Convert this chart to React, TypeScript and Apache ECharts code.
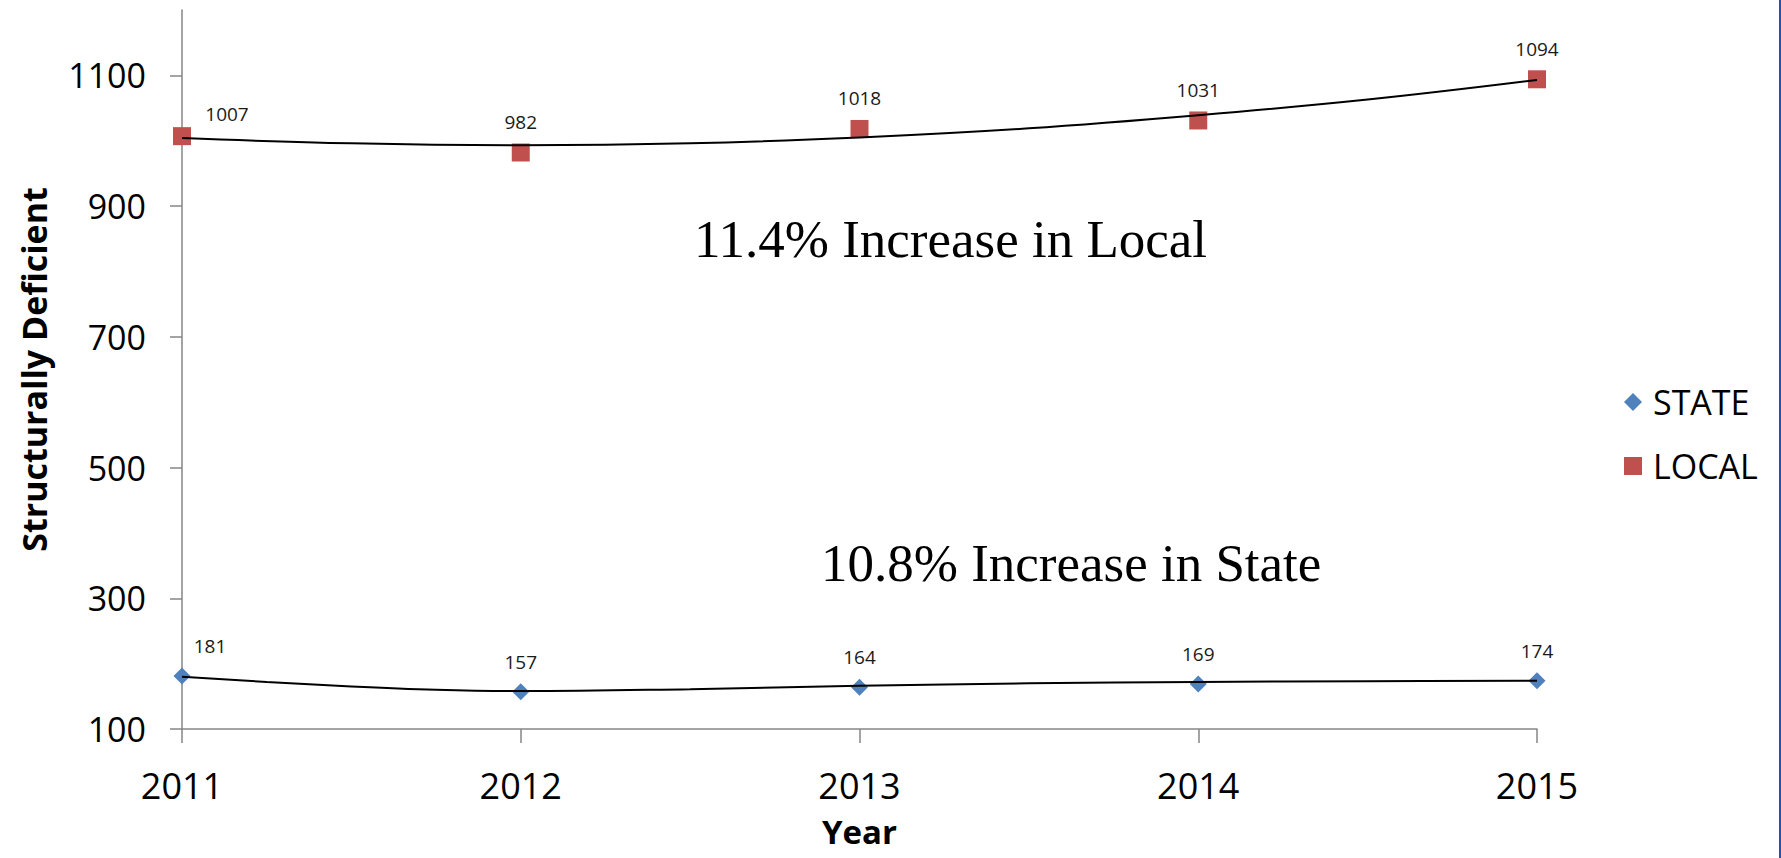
import React, { useEffect, useRef } from "react";
import * as echarts from "echarts";

const YEARS = [2011, 2012, 2013, 2014, 2015];
const STATE_VALUES = [181, 157, 164, 169, 174];
const LOCAL_VALUES = [1007, 982, 1018, 1031, 1094];
const Y_TICKS = [100, 300, 500, 700, 900, 1100];

// trendline points
const LOCAL_TREND_X = [2011, 2011.5, 2012, 2012.5, 2013, 2013.5, 2014, 2014.5, 2015];
const LOCAL_TREND_Y = [1004, 996, 993, 996, 1005, 1019, 1039, 1063, 1093];
const STATE_TREND_X = [2011, 2011.25, 2011.5, 2011.75, 2012, 2012.5, 2013, 2013.5, 2014, 2014.5, 2015];
const STATE_TREND_Y = [180, 172, 165, 160, 158, 161, 166, 170, 172, 173, 174];

const SERIES_NAMES = ["STATE", "LOCAL"];
const ANNOTATIONS = ["11.4% Increase in Local", "10.8% Increase in State"];

const FONT = "'Open Sans', 'DejaVu Sans', sans-serif";
const SERIF = "'Liberation Serif', 'Times New Roman', serif";

export default function App() {
  const ref = useRef<HTMLDivElement>(null);

  useEffect(() => {
    if (!ref.current) return;
    const chart = echarts.init(ref.current, null, { renderer: "svg" });

    const pointLabel = {
      show: true,
      position: "top",
      distance: 12,
      fontSize: 19,
      color: "#1a1a1a",
      fontFamily: FONT,
    };

    const localData = YEARS.map((y, i) =>
      i === 0
        ? { value: [y, LOCAL_VALUES[i]], label: { offset: [45, 8] } }
        : { value: [y, LOCAL_VALUES[i]] }
    );
    const stateData = YEARS.map((y, i) =>
      i === 0
        ? { value: [y, STATE_VALUES[i]], label: { offset: [28, 0] } }
        : { value: [y, STATE_VALUES[i]] }
    );

    chart.setOption({
      animation: false,
      backgroundColor: "#ffffff",
      grid: {
        left: 182,
        right: 244,
        top: 10,
        bottom: 129,
        containLabel: false,
        outerBoundsMode: "none",
      },
      legend: {
        orient: "vertical",
        left: 1619,
        top: 380,
        itemWidth: 18,
        itemHeight: 18,
        itemGap: 30,
        textStyle: { fontSize: 34, color: "#000", fontFamily: FONT, padding: [0, 0, 0, 6] },
        data: [
          { name: SERIES_NAMES[0], icon: "diamond" },
          { name: SERIES_NAMES[1], icon: "rect" },
        ],
      },
      xAxis: {
        type: "value",
        min: YEARS[0],
        max: YEARS[YEARS.length - 1],
        interval: 1,
        name: "Year",
        nameLocation: "middle",
        nameGap: 86,
        nameTextStyle: {
          fontSize: 33,
          lineHeight: 33,
          fontWeight: "bold",
          color: "#000",
          fontFamily: FONT,
        },
        axisLine: { show: true, lineStyle: { color: "#868686", width: 1.5 } },
        axisTick: { show: true, length: 14, lineStyle: { color: "#868686", width: 1.5 } },
        axisLabel: {
          fontSize: 36,
          color: "#000",
          margin: 38,
          fontFamily: FONT,
          formatter: (v: number) => String(v),
        },
        splitLine: { show: false },
      },
      yAxis: {
        type: "value",
        min: 100,
        max: 1200,
        interval: 200,
        name: "Structurally Deficient",
        nameLocation: "middle",
        nameGap: 131,
        nameRotate: 90,
        nameTextStyle: { fontSize: 34, fontWeight: "bold", color: "#000", fontFamily: FONT },
        axisLine: { show: true, lineStyle: { color: "#868686", width: 1.5 } },
        axisTick: {
          show: true,
          length: 12,
          customValues: Y_TICKS,
          lineStyle: { color: "#868686", width: 1.5 },
        },
        axisLabel: {
          fontSize: 34,
          color: "#000",
          margin: 36,
          fontFamily: FONT,
          customValues: Y_TICKS,
          formatter: (v: number) => String(v),
        },
        splitLine: { show: false },
      },
      series: [
        {
          name: SERIES_NAMES[0],
          type: "scatter",
          symbol: "diamond",
          symbolSize: 17,
          itemStyle: { color: "#4F81BD", opacity: 1 },
          label: pointLabel,
          data: stateData,
          z: 3,
        },
        {
          name: SERIES_NAMES[1],
          type: "scatter",
          symbol: "rect",
          symbolSize: 18,
          itemStyle: { color: "#C0504D", opacity: 1 },
          label: pointLabel,
          data: localData,
          z: 3,
        },
        {
          name: "STATE trend",
          type: "line",
          smooth: 0.4,
          showSymbol: false,
          silent: true,
          lineStyle: { color: "#000", width: 2 },
          data: STATE_TREND_X.map((x, i) => [x, STATE_TREND_Y[i]]),
          z: 4,
        },
        {
          name: "LOCAL trend",
          type: "line",
          smooth: 0.4,
          showSymbol: false,
          silent: true,
          lineStyle: { color: "#000", width: 2 },
          data: LOCAL_TREND_X.map((x, i) => [x, LOCAL_TREND_Y[i]]),
          z: 4,
        },
      ],
      graphic: [
        {
          type: "text",
          left: 694,
          top: 212,
          style: { text: ANNOTATIONS[0], fontSize: 53, fontFamily: SERIF, fill: "#000" },
        },
        {
          type: "text",
          left: 821,
          top: 536,
          style: { text: ANNOTATIONS[1], fontSize: 53, fontFamily: SERIF, fill: "#000" },
        },
        {
          type: "rect",
          right: 0,
          top: 0,
          shape: { width: 2, height: 858 },
          style: { fill: "#2050b0" },
        },
      ],
    });

    return () => chart.dispose();
  }, []);

  return (
    <div
      ref={ref}
      style={{ position: "fixed", left: 0, top: 0, width: 1781, height: 858, background: "#fff" }}
    />
  );
}
